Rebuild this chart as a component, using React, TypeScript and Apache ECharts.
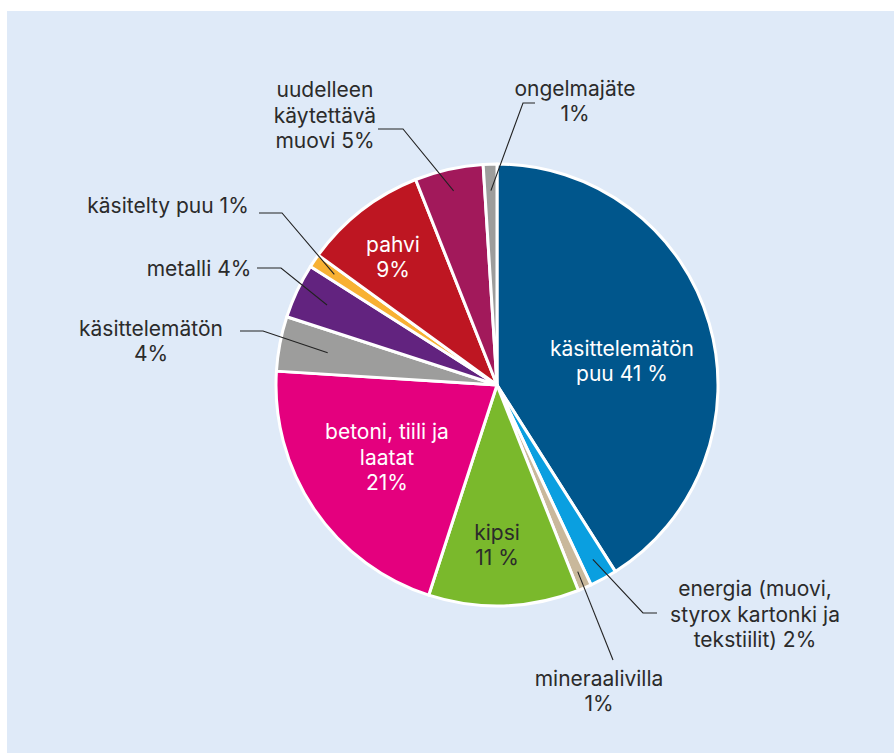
import React, { useEffect, useRef } from 'react';
import * as echarts from 'echarts';

const categories = [
  'käsittelemätön puu',
  'energia (muovi, styrox kartonki ja tekstiilit)',
  'mineraalivilla',
  'kipsi',
  'betoni, tiili ja laatat',
  'käsittelemätön',
  'metalli',
  'käsitelty puu',
  'pahvi',
  'uudelleen käytettävä muovi',
  'ongelmajäte',
];
const values = [41, 2, 1, 11, 21, 4, 4, 1, 9, 5, 1];
const labelTexts = [
  'käsittelemätön\npuu 41 %',
  'energia (muovi,\nstyrox kartonki ja\ntekstiilit) 2%',
  'mineraalivilla\n1%',
  'kipsi\n11 %',
  'betoni, tiili ja\nlaatat\n21%',
  'käsittelemätön\n4%',
  'metalli 4%',
  'käsitelty puu 1%',
  'pahvi\n9%',
  'uudelleen\nkäytettävä\nmuovi 5%',
  'ongelmajäte\n1%',
];
const colors = [
  '#00568c', '#0a9fe0', '#c9b89b', '#7ab92c', '#e4007e', '#9d9d9c',
  '#62237f', '#f8b133', '#be1622', '#a2195b', '#9d9d9c',
];
const insideLabel = [true, false, false, true, true, false, false, false, true, false, false];
const labelColors = [
  '#ffffff', '#2b2b2b', '#2b2b2b', '#2b2b2b', '#ffffff', '#2b2b2b',
  '#2b2b2b', '#2b2b2b', '#ffffff', '#2b2b2b', '#2b2b2b',
];
// label centres (page pixels)
const labelPos: number[][] = [
  [622, 361], [755, 614], [599, 691], [497, 545], [387, 457], [151, 341],
  [199, 268], [168, 205], [393, 257], [325, 115], [575, 101],
];
// leader: [labelEndX, labelEndY, kneeX, kneeY, anchorRadiusFraction]
const leaders: (number[] | null)[] = [
  null,
  [657, 613, 643, 613, 0.9],
  [613, 660, 613, 660, 0.92],
  null,
  null,
  [240, 331, 263, 331, 0.78],
  [257, 268, 281, 268, 0.85],
  [259, 213, 282, 213, 0.89],
  null,
  [378, 129, 403, 129, 0.9],
  [535, 103, 523, 103, 0.88],
];

const CX = 497;
const CY = 385;
const R = 221;

export default function App() {
  const ref = useRef<HTMLDivElement>(null);
  useEffect(() => {
    if (!ref.current) return;
    const chart = echarts.init(ref.current, undefined, { renderer: 'svg' });
    const total = values.reduce((a, b) => a + b, 0);
    const cum: number[] = [];
    let acc = 0;
    values.forEach((v) => {
      cum.push(acc + v / 2);
      acc += v;
    });

    const data = categories.map((name, i) => ({
      name,
      value: values[i],
      itemStyle: { color: colors[i] },
      label: {
        position: insideLabel[i] ? 'inside' : 'outside',
        color: labelColors[i],
        formatter: () => labelTexts[i],
      },
    }));

    const leaderIdx: number[] = [];
    leaders.forEach((l, i) => {
      if (l) leaderIdx.push(i);
    });

    chart.setOption({
      animation: false,
      backgroundColor: 'transparent',
      series: [
        {
          type: 'pie',
          z: 2,
          center: [CX, CY],
          radius: [0, R],
          startAngle: 90,
          clockwise: true,
          avoidLabelOverlap: false,
          itemStyle: { borderColor: '#ffffff', borderWidth: 3 },
          label: {
            show: true,
            fontFamily: 'Inter, "Noto Sans", sans-serif',
            fontSize: 21,
            lineHeight: 25.5,
            align: 'center',
          },
          labelLine: { show: false },
          emphasis: { disabled: true },
          labelLayout: (params: any) => {
            const p = labelPos[params.dataIndex];
            return { x: p[0], y: p[1], align: 'center', verticalAlign: 'middle' };
          },
          data,
        },
        {
          type: 'custom',
          coordinateSystem: 'none',
          z: 20,
          silent: true,
          data: leaderIdx.map((i) => [i]),
          renderItem: (params: any) => {
            const i = leaderIdx[params.dataIndex];
            const l = leaders[i] as number[];
            const th = (cum[i] / total) * Math.PI * 2;
            const ax = CX + l[4] * R * Math.sin(th);
            const ay = CY - l[4] * R * Math.cos(th);
            return {
              type: 'polyline',
              shape: { points: [[l[0], l[1]], [l[2], l[3]], [ax, ay]] },
              style: { stroke: '#222222', lineWidth: 1.1, fill: null },
            };
          },
        },
      ],
    });
    return () => chart.dispose();
  }, []);
  return (
    <div style={{ position: 'fixed', left: 0, top: 0, width: 894, height: 753, background: '#fff' }}>
      <div style={{ position: 'absolute', left: 7, top: 11, width: 887, height: 742, background: '#dfeaf8' }} />
      <div ref={ref} style={{ position: 'absolute', left: 0, top: 0, width: 894, height: 753 }} />
    </div>
  );
}
